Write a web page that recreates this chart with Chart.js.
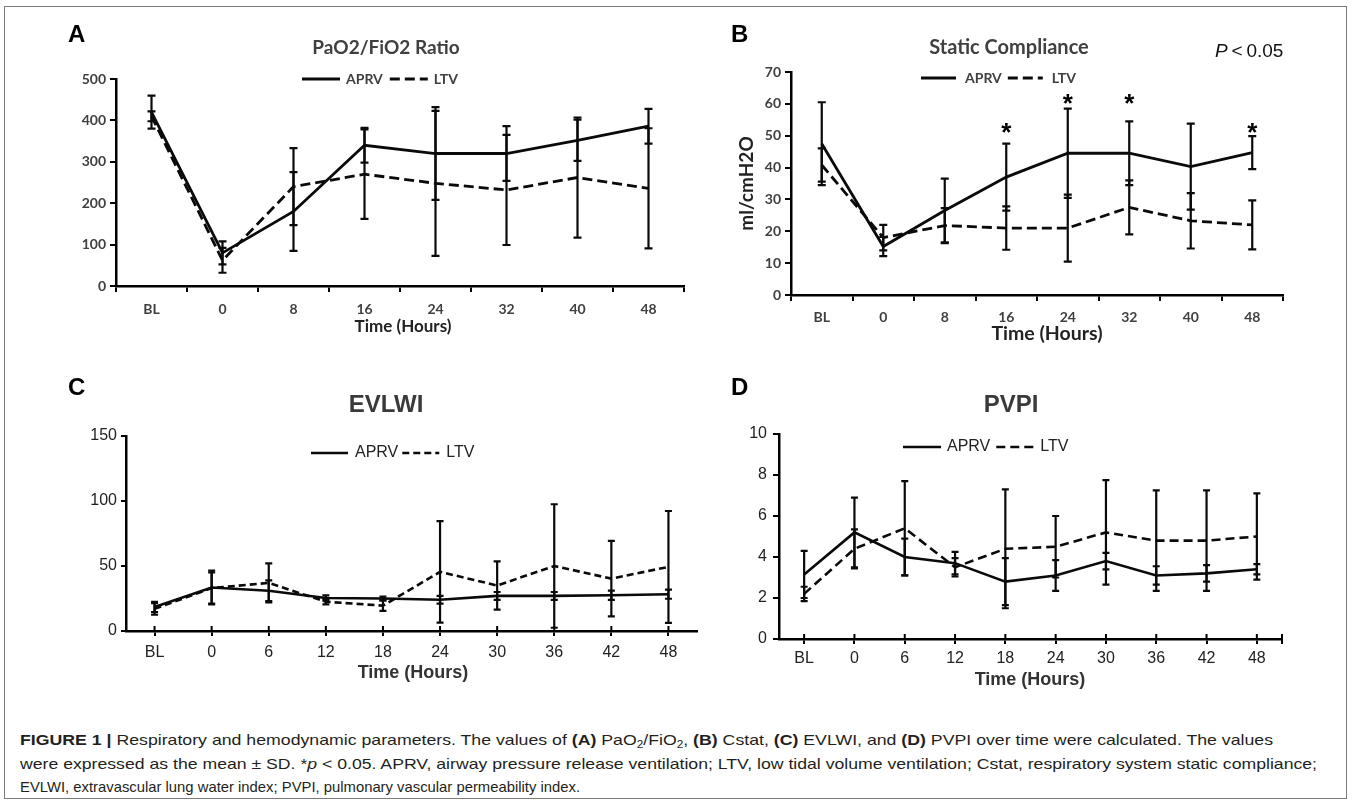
<!DOCTYPE html>
<html>
<head>
<meta charset="utf-8">
<script src="https://cdn.jsdelivr.net/npm/chart.js"></script>
<style>
  html, body { margin: 0; padding: 0; background: #fff; }
  body { width: 1352px; height: 808px; position: relative; overflow: hidden; }
  .frame { position: absolute; left: 4px; top: 6px; width: 1343px; height: 793px; border: 1px solid #7a7a7a; box-sizing: border-box; }
  canvas { position: absolute; }
  .letter { position: absolute; font: bold 24px 'Liberation Sans', Arial, sans-serif; line-height: 24px; color: #000; }
  .pval { position: absolute; left: 1215px; top: 41px; font: 19px 'Liberation Sans', Arial, sans-serif; line-height: 19px; color: #111; white-space: nowrap; }
  .cap { position: absolute; left: 20px; font: 15px 'Liberation Sans', Arial, sans-serif; line-height: 15px; color: #231f20; white-space: nowrap; transform-origin: 0 0; }
  .cap sub { font-size: 10px; vertical-align: -3px; line-height: 0; }
</style>
</head>
<body>
<div class="frame"></div>
<canvas id="cA" width="700" height="350" style="left:0px;top:0px"></canvas>
<canvas id="cB" width="676" height="350" style="left:676px;top:0px"></canvas>
<canvas id="cC" width="710" height="345" style="left:0px;top:355px"></canvas>
<canvas id="cD" width="676" height="345" style="left:676px;top:355px"></canvas>
<div class="letter" style="left:68px;top:22px">A</div>
<div class="letter" style="left:731px;top:22px">B</div>
<div class="letter" style="left:68px;top:375px">C</div>
<div class="letter" style="left:731px;top:375px">D</div>
<div class="pval"><i>P</i>&thinsp;&lt;&thinsp;0.05</div>
<div class="cap" id="cap1" data-w="1253" style="top:732px"><b>FIGURE 1 |</b> Respiratory and hemodynamic parameters. The values of <b>(A)</b> PaO<sub>2</sub>/FiO<sub>2</sub>, <b>(B)</b> Cstat, <b>(C)</b> EVLWI, and <b>(D)</b> PVPI over time were calculated. The values</div>
<div class="cap" id="cap2" data-w="1297" style="top:755.5px">were expressed as the mean ± SD. *<i>p</i> &lt; 0.05. APRV, airway pressure release ventilation; LTV, low tidal volume ventilation; Cstat, respiratory system static compliance;</div>
<div class="cap" id="cap3" data-w="560" style="top:779px">EVLWI, extravascular lung water index; PVPI, pulmonary vascular permeability index.</div>
<script>
// ---------------- DATA ----------------
const categoriesA = ['BL', '0', '8', '16', '24', '32', '40', '48'];
const aprvA   = [420, 80, 180, 340, 320, 320, 352, 386];
const aprvSdA = [40, 28, 95, 42, 112, 66, 50, 42];
const ltvA    = [410, 62, 240, 270, 248, 232, 262, 236];
const ltvSdA  = [12, 30, 93, 108, 175, 133, 145, 145];

const categoriesB = ['BL', '0', '8', '16', '24', '32', '40', '48'];
const aprvB   = [47.5, 15.2, 26.5, 37, 44.5, 44.5, 40.3, 44.7];
const aprvSdB = [13, 3, 10, 10.5, 14, 10, 13.5, 5.2];
const ltvB    = [40.8, 18, 21.8, 21, 21, 27.5, 23.3, 22];
const ltvSdB  = [5.2, 4, 5.5, 6.8, 10.5, 8.5, 8.7, 7.7];
const starsB  = [null, null, null, 52.4, 61.5, 61.5, null, 52.4];

const categoriesC = ['BL', '0', '6', '12', '18', '24', '30', '36', '42', '48'];
const aprvC   = [18.5, 33.5, 31, 25.4, 25, 24, 27, 27, 27.5, 28.3];
const aprvSdC = [4, 13, 8, 2, 1.5, 3, 3, 3, 3.5, 3.5];
const ltvC    = [17, 33, 37, 22.5, 19.5, 45.5, 35, 50, 40.3, 49.3];
const ltvSdC  = [4.5, 12, 15, 2, 4, 39, 18.5, 47.5, 29, 43];

const categoriesD = ['BL', '0', '6', '12', '18', '24', '30', '36', '42', '48'];
const aprvD   = [3.15, 5.2, 4.0, 3.7, 2.8, 3.1, 3.8, 3.1, 3.2, 3.4];
const aprvSdD = [1.15, 1.7, 0.9, 0.55, 1.15, 0.75, 0.4, 0.45, 0.4, 0.25];
const ltvD    = [2.2, 4.4, 5.4, 3.5, 4.4, 4.5, 5.2, 4.8, 4.8, 5.0];
const ltvSdD  = [0.35, 0.95, 2.3, 0.45, 2.9, 1.5, 2.55, 2.45, 2.45, 2.1];

const seriesNames = ['APRV', 'LTV'];
const timeTitle = 'Time (Hours)';

// ---------------- PLUGINS ----------------
const errorBars = {
  id: 'errorBars',
  afterDatasetsDraw(chart, args, opts) {
    const ctx = chart.ctx, ys = chart.scales.y;
    chart.data.datasets.forEach((ds, i) => {
      if (!ds.sd) return;
      const meta = chart.getDatasetMeta(i);
      ctx.save();
      ctx.strokeStyle = opts.color || '#000';
      ctx.lineWidth = opts.width || 2;
      ctx.setLineDash([]);
      meta.data.forEach((pt, j) => {
        const m = ds.data[j], s = ds.sd[j];
        if (m == null || s == null) return;
        const x = pt.x, yt = ys.getPixelForValue(m + s), yb = ys.getPixelForValue(m - s);
        const c = opts.cap || 4;
        ctx.beginPath();
        ctx.moveTo(x, yt); ctx.lineTo(x, yb);
        ctx.moveTo(x - c, yt); ctx.lineTo(x + c, yt);
        ctx.moveTo(x - c, yb); ctx.lineTo(x + c, yb);
        ctx.stroke();
      });
      ctx.restore();
    });
  }
};

const stars = {
  id: 'stars',
  afterDatasetsDraw(chart, args, opts) {
    if (!opts.values) return;
    const ctx = chart.ctx, xs = chart.scales.x, ys = chart.scales.y;
    ctx.save();
    ctx.font = opts.font;
    ctx.fillStyle = opts.color || '#000';
    ctx.textAlign = 'center';
    ctx.textBaseline = 'alphabetic';
    const m = ctx.measureText('*');
    const hOff = (m.actualBoundingBoxAscent - m.actualBoundingBoxDescent) / 2;
    opts.values.forEach((v, j) => {
      if (v == null) return;
      ctx.fillText('*', xs.getPixelForValue(j), ys.getPixelForValue(v) + hOff);
    });
    ctx.restore();
  }
};

// free-standing texts (panel title and x-axis title) of each panel
const panelTexts = {
  id: 'panelTexts',
  afterDraw(chart, args, opts) {
    if (!opts.items) return;
    const ctx = chart.ctx;
    ctx.save();
    ctx.textAlign = 'center';
    ctx.textBaseline = 'middle';
    opts.items.forEach((t) => {
      ctx.font = t.font;
      ctx.fillStyle = t.color;
      ctx.fillText(t.text, t.x, t.y);
    });
    ctx.restore();
  }
};

const lineLegend = {
  id: 'lineLegend',
  afterDraw(chart, args, opts) {
    const ctx = chart.ctx;
    ctx.save();
    ctx.font = opts.font;
    ctx.textBaseline = 'middle';
    ctx.textAlign = 'left';
    let x = opts.x;
    const y = opts.y;
    chart.data.datasets.forEach((ds) => {
      ctx.strokeStyle = ds.borderColor;
      ctx.lineWidth = ds.borderWidth;
      ctx.setLineDash(ds.borderDash || []);
      ctx.beginPath();
      ctx.moveTo(x, y); ctx.lineTo(x + opts.lineLen, y);
      ctx.stroke();
      x += opts.lineLen + opts.textGap;
      ctx.fillStyle = opts.color;
      ctx.fillText(ds.label, x, y);
      x += ctx.measureText(ds.label).width + opts.itemGap;
    });
    ctx.restore();
  }
};

const crossTicks = {
  id: 'crossTicks',
  afterDraw(chart, args, opts) {
    if (!opts.len) return;
    const ctx = chart.ctx, xs = chart.scales.x;
    const yAxis = chart.chartArea.bottom;
    ctx.save();
    ctx.strokeStyle = '#000';
    ctx.lineWidth = 2;
    ctx.beginPath();
    xs.ticks.forEach((t, i) => {
      const x = xs.getPixelForTick(i);
      ctx.moveTo(x, yAxis); ctx.lineTo(x, yAxis - opts.len);
    });
    if (opts.endTick) {
      const xr = chart.chartArea.right;
      ctx.moveTo(xr, yAxis - opts.len); ctx.lineTo(xr, yAxis + opts.len);
    }
    ctx.stroke();
    ctx.restore();
  }
};

// ---------------- BUILDER ----------------
const CAL = "Lato, 'Open Sans', sans-serif";
const ARI = "'Liberation Sans', Arial, sans-serif";

function makeChart(id, cfg) {
  const ds = (label, data, sd, dash) => ({
    label, data, sd,
    borderColor: '#0a0a0a', backgroundColor: '#0a0a0a',
    borderWidth: cfg.lineWidth, borderDash: dash,
    pointRadius: 0, pointHoverRadius: 0, tension: 0, fill: false
  });
  return new Chart(document.getElementById(id), {
    type: 'line',
    data: {
      labels: cfg.labels,
      datasets: [
        ds(seriesNames[0], cfg.aprv, cfg.aprvSd, []),
        ds(seriesNames[1], cfg.ltv, cfg.ltvSd, cfg.dash)
      ]
    },
    options: {
      responsive: false, animation: false, devicePixelRatio: 1,
      events: [],
      layout: { padding: cfg.pad },
      plugins: {
        legend: { display: false },
        tooltip: { enabled: false },
        title: { display: false },
        panelTexts: { items: [cfg.title, Object.assign({ text: timeTitle }, cfg.xTitle)] },
        errorBars: { color: '#0a0a0a', width: 2.2, cap: cfg.cap },
        stars: { values: cfg.stars, font: "bold 26px " + ARI, color: '#000' },
        lineLegend: cfg.legend,
        crossTicks: cfg.cross || {}
      },
      scales: {
        x: {
          type: 'category', offset: true,
          grid: { offset: cfg.gridOffset, drawOnChartArea: false, drawTicks: true, tickLength: cfg.xTickLen, color: '#000', lineWidth: 2 },
          border: { display: true, color: '#000', width: 2.5 },
          ticks: { font: cfg.tickFont, color: cfg.tickColor, padding: cfg.xTickPad, autoSkip: false, maxRotation: 0 },
          title: { display: false },
          afterFit: (s) => { s.height = cfg.xH; }
        },
        y: {
          min: 0, max: cfg.yMax,
          grid: { drawOnChartArea: false, drawTicks: true, tickLength: cfg.yTickLen, color: '#000', lineWidth: 2 },
          border: { display: true, color: '#000', width: 2.5 },
          ticks: { stepSize: cfg.yStep, font: cfg.tickFont, color: cfg.tickColor, padding: cfg.yTickPad },
          title: cfg.yTitle ? { display: true, text: cfg.yTitle, font: cfg.yTitleFont, color: '#222', padding: { top: cfg.yTitlePadT, bottom: 0 } } : { display: false },
          afterFit: (s) => { s.width = cfg.yW; }
        }
      }
    },
    plugins: [errorBars, stars, panelTexts, lineLegend, crossTicks]
  });
}

// Panel A
makeChart('cA', {
  labels: categoriesA, aprv: aprvA, aprvSd: aprvSdA, ltv: ltvA, ltvSd: ltvSdA,
  dash: [10, 5], lineWidth: 2.8, cap: 4,
  pad: { left: 0, right: 16, top: 79, bottom: 0 },
  title: { text: 'PaO2/FiO2 Ratio', font: "bold 19px " + CAL, color: '#404040', x: 386, y: 48 },
  xTitle: { font: "bold 17px " + CAL, color: '#222', x: 403, y: 327 },
  tickFont: { family: CAL, size: 14, weight: 'bold' }, tickColor: '#404040',
  gridOffset: true, xTickLen: 6, xTickPad: 8.6, xH: 64,
  yMax: 500, yStep: 100, yTickLen: 6, yTickPad: 4, yW: 116,
  legend: { x: 302, y: 79, lineLen: 38, textGap: 6, itemGap: 7, font: "bold 14px " + CAL, color: '#404040' }
});

// Panel B
makeChart('cB', {
  labels: categoriesB, aprv: aprvB, aprvSd: aprvSdB, ltv: ltvB, ltvSd: ltvSdB, stars: starsB,
  dash: [10, 5], lineWidth: 2.8, cap: 4,
  pad: { left: 50, right: 69, top: 72, bottom: 0 },
  title: { text: 'Static Compliance', font: "bold 20px " + CAL, color: '#404040', x: 333, y: 48 },
  xTitle: { font: "bold 19.5px " + CAL, color: '#222', x: 371, y: 334 },
  tickFont: { family: CAL, size: 14, weight: 'bold' }, tickColor: '#404040',
  yTitle: 'ml/cmH2O', yTitleFont: { family: CAL, size: 19, weight: 'bold' }, yTitlePadT: 9.1,
  gridOffset: true, xTickLen: 6, xTickPad: 7.6, xH: 55,
  yMax: 70, yStep: 10, yTickLen: 6, yTickPad: 4, yW: 65,
  legend: { x: 245, y: 78, lineLen: 35, textGap: 9, itemGap: 6, font: "bold 14px " + CAL, color: '#404040' }
});

// Panel C
makeChart('cC', {
  labels: categoriesC, aprv: aprvC, aprvSd: aprvSdC, ltv: ltvC, ltvSd: ltvSdC,
  dash: [7, 4], lineWidth: 2.6, cap: 3.5,
  pad: { left: 0, right: 13, top: 81, bottom: 0 },
  title: { text: 'EVLWI', font: "bold 24px " + ARI, color: '#3a3a3a', x: 386, y: 50 },
  xTitle: { font: "bold 18px " + ARI, color: '#333', x: 413, y: 318 },
  tickFont: { family: ARI, size: 16 }, tickColor: '#222',
  gridOffset: false, xTickLen: 5, xTickPad: 7.4, xH: 69,
  yMax: 150, yStep: 50, yTickLen: 5, yTickPad: 4, yW: 126,
  legend: { x: 311, y: 98, lineLen: 37, textGap: 7, itemGap: 4, font: "16px " + ARI, color: '#222' },
  cross: { len: 5, endTick: false }
});

// Panel D
makeChart('cD', {
  labels: categoriesD, aprv: aprvD, aprvSd: aprvSdD, ltv: ltvD, ltvSd: ltvSdD,
  dash: [9, 5], lineWidth: 2.6, cap: 3.5,
  pad: { left: 0, right: 70, top: 79, bottom: 0 },
  title: { text: 'PVPI', font: "bold 24px " + ARI, color: '#3a3a3a', x: 335, y: 50 },
  xTitle: { font: "bold 18px " + ARI, color: '#333', x: 354, y: 325 },
  tickFont: { family: ARI, size: 16 }, tickColor: '#222',
  gridOffset: false, xTickLen: 5, xTickPad: 5.4, xH: 61,
  yMax: 10, yStep: 2, yTickLen: 6, yTickPad: 6, yW: 103,
  legend: { x: 227, y: 92, lineLen: 38, textGap: 6, itemGap: 6, font: "16px " + ARI, color: '#222' },
  cross: { len: 5, endTick: true }
});

// caption line fitting
document.querySelectorAll('.cap').forEach((el) => {
  const w = el.getBoundingClientRect().width;
  const target = parseFloat(el.dataset.w);
  if (w > 0) el.style.transform = 'scaleX(' + (target / w).toFixed(4) + ')';
});
</script>
</body>
</html>
